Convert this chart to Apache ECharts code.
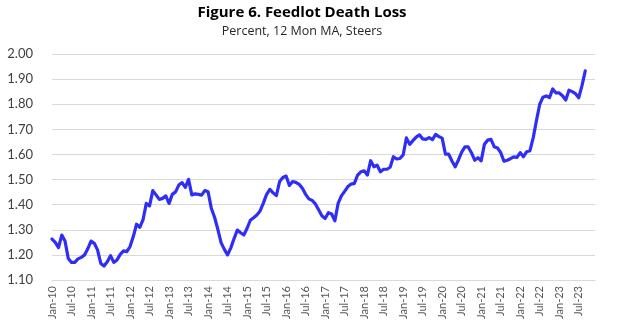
<!DOCTYPE html>
<html>
<head>
<meta charset="utf-8">
<script src="https://cdn.jsdelivr.net/npm/echarts@6/dist/echarts.min.js"></script>
<style>
  html, body { margin: 0; padding: 0; background: #fff; }
  #chart { width: 632px; height: 327px; }
</style>
</head>
<body>
<div id="chart"></div>
<script>
// Monthly axis: Jan-10 through Dec-23
const monthNames = ['Jan', 'Feb', 'Mar', 'Apr', 'May', 'Jun', 'Jul', 'Aug', 'Sep', 'Oct', 'Nov', 'Dec'];
const firstYear = 2010;
const lastYear = 2023;
const categories = [];
for (let y = firstYear; y <= lastYear; y++) {
  for (let m = 0; m < 12; m++) {
    categories.push(monthNames[m] + '-' + String(y % 100).padStart(2, '0'));
  }
}

// Feedlot death loss, steers, percent (12-month moving average), Jan-10 .. Sep-23
const deathLoss = [
  1.263, 1.250, 1.229, 1.279, 1.255, 1.186, 1.170, 1.170, 1.184, 1.190, 1.200, 1.224,
  1.255, 1.246, 1.220, 1.166, 1.156, 1.173, 1.197, 1.170, 1.180, 1.202, 1.216, 1.213,
  1.233, 1.273, 1.322, 1.310, 1.340, 1.405, 1.395, 1.456, 1.439, 1.421, 1.425, 1.435,
  1.405, 1.441, 1.451, 1.478, 1.488, 1.469, 1.501, 1.439, 1.443, 1.441, 1.438, 1.456,
  1.451, 1.386, 1.350, 1.302, 1.249, 1.222, 1.200, 1.228, 1.265, 1.299, 1.288, 1.279,
  1.306, 1.338, 1.348, 1.359, 1.375, 1.406, 1.441, 1.461, 1.447, 1.436, 1.492, 1.508,
  1.514, 1.476, 1.492, 1.489, 1.481, 1.465, 1.441, 1.423, 1.417, 1.403, 1.380, 1.356,
  1.345, 1.368, 1.363, 1.336, 1.405, 1.435, 1.453, 1.472, 1.482, 1.485, 1.518, 1.531,
  1.535, 1.518, 1.575, 1.551, 1.557, 1.531, 1.541, 1.541, 1.549, 1.591, 1.582, 1.584,
  1.598, 1.666, 1.640, 1.655, 1.669, 1.678, 1.662, 1.660, 1.667, 1.659, 1.680, 1.671,
  1.665, 1.601, 1.601, 1.574, 1.551, 1.578, 1.609, 1.630, 1.630, 1.607, 1.577, 1.587,
  1.575, 1.641, 1.657, 1.660, 1.631, 1.626, 1.607, 1.573, 1.577, 1.583, 1.590, 1.588,
  1.607, 1.591, 1.611, 1.615, 1.667, 1.735, 1.800, 1.828, 1.833, 1.826, 1.861, 1.845,
  1.845, 1.834, 1.817, 1.856, 1.850, 1.842, 1.826, 1.874, 1.933
];

// Value axis range and step
const yMin = 1.1;
const yMax = 2.0;
const yStep = 0.1;

const titleText = 'Figure 6. Feedlot Death Loss';
const subtitleText = 'Percent, 12 Mon MA, Steers';

const seriesData = categories.map((_, i) => (i < deathLoss.length ? deathLoss[i] : null));

const chart = echarts.init(document.getElementById('chart'), null, { renderer: 'canvas' });
const font = 'Lato, "Open Sans", sans-serif';
const headFont = '"Open Sans", Lato, sans-serif';

chart.setOption({
  animation: false,
  backgroundColor: '#ffffff',
  graphic: [
    {
      type: 'text', x: 302, y: 5,
      style: { text: titleText, textAlign: 'center', fill: '#000000', font: 'bold 15px ' + headFont }
    },
    {
      type: 'text', x: 302, y: 25,
      style: { text: subtitleText, textAlign: 'center', fill: '#262626', font: '12.5px ' + headFont }
    }
  ],
  grid: { left: 52, right: 37, top: 54, bottom: 47, containLabel: false },
  xAxis: {
    type: 'category',
    data: categories,
    boundaryGap: false,
    axisLine: { show: true, lineStyle: { color: '#d9d9d9', width: 1 } },
    axisTick: { show: false },
    splitLine: { show: false },
    axisLabel: {
      interval: 5,
      rotate: 90,
      margin: 6,
      color: '#595959',
      fontFamily: font,
      fontSize: 11
    }
  },
  yAxis: {
    type: 'value',
    min: yMin,
    max: yMax,
    interval: yStep,
    axisLine: { show: false },
    axisTick: { show: false },
    splitLine: { show: true, lineStyle: { color: '#d9d9d9', width: 1 } },
    axisLabel: {
      margin: 19,
      color: '#404040',
      fontFamily: font,
      fontSize: 13,
      formatter: v => v.toFixed(2)
    }
  },
  series: [
    {
      type: 'line',
      data: seriesData,
      showSymbol: false,
      connectNulls: false,
      lineStyle: { color: '#2e2ef7', width: 3.2, join: 'round', cap: 'round' },
      itemStyle: { color: '#2e2ef7' }
    }
  ]
});
</script>
</body>
</html>
